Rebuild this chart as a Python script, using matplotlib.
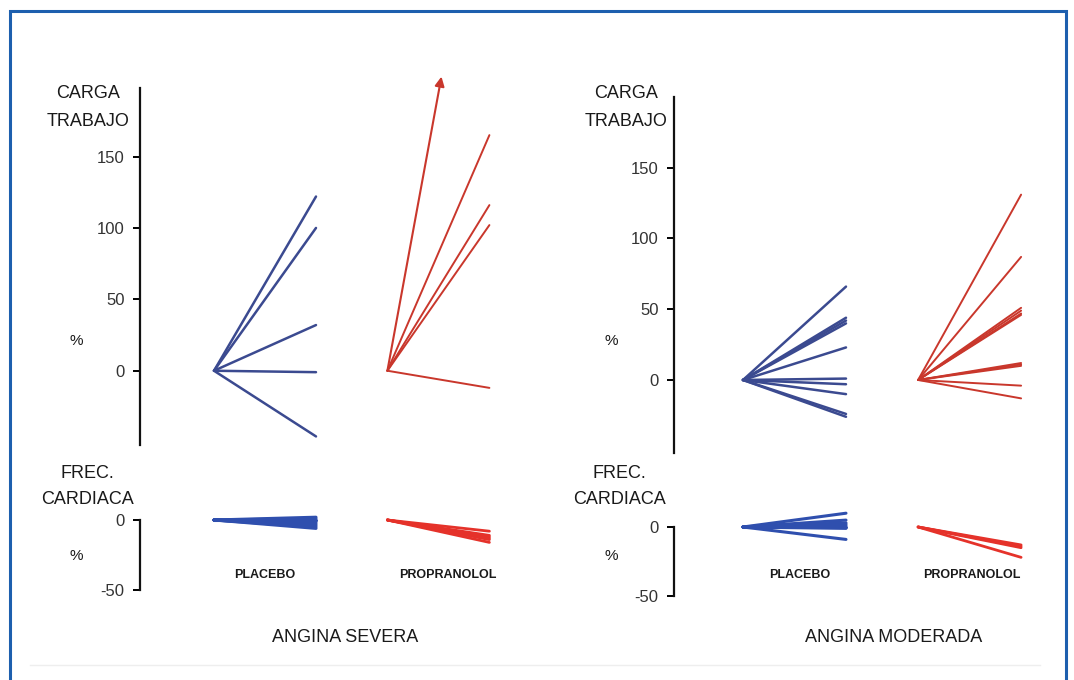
"""
Carga de trabajo y frecuencia cardiaca: placebo vs propranolol,
angina severa y angina moderada (cambios en % respecto al basal).
"""
import matplotlib
matplotlib.use("Agg")
import matplotlib.pyplot as plt
from matplotlib.patches import Rectangle

plt.rcParams["font.family"] = ["Liberation Sans", "DejaVu Sans"]

# ── Datos (% de cambio al final de cada tramo) ────────────────────────────────
sev_plac_carga = [122, 100, 32, -1, -46]
sev_prop_carga = [165, 116, 102, -12]
sev_prop_flecha = 206            # valor fuera de escala (flecha)
sev_plac_fc = [2, 1, 0, -1, -2, -3, -4, -5, -6]
sev_prop_fc = [-8, -11, -12, -13, -14, -16]

mod_plac_carga = [66, 44, 42, 40, 23, 1, -3, -10, -24, -26]
mod_prop_carga = [131, 87, 51, 49, 47, 46, 12, 11, 10, -4, -13]
mod_plac_fc = [10, 5, 3, 2, 1, 0, -1, -9]
mod_prop_fc = [-13, -14, -15, -22]

carga_ticks = [0, 50, 100, 150]
fc_ticks = [0, -50]
grupos = ["PLACEBO", "PROPRANOLOL"]
titulos = ["ANGINA SEVERA", "ANGINA MODERADA"]

# ── Estilo ────────────────────────────────────────────────────────────────────
AZUL = "#3b4a90"
AZUL_FC = "#2f4fae"
ROJO = "#c9372c"
ROJO_FC = "#e5322a"
W, H = 1074, 680
X_PLAC, X_PROP, DX = 0.0, 1.7, 1.0

fig = plt.figure(figsize=(W / 100, H / 100), dpi=100)


def add_axes_px(x0, y0, x1, y1):
    return fig.add_axes([x0 / W, 1 - y1 / H, (x1 - x0) / W, (y1 - y0) / H])


def style_axis(ax, ticks):
    for s in ("top", "right", "bottom"):
        ax.spines[s].set_visible(False)
    ax.spines["left"].set_linewidth(1.6)
    ax.spines["left"].set_color("#111111")
    ax.set_xticks([])
    ax.set_yticks(ticks)
    ax.set_yticklabels([str(t) for t in ticks])
    ax.tick_params(axis="y", direction="out", length=5, width=1.4,
                   labelsize=12, labelcolor="#333333", pad=6)
    ax.patch.set_visible(False)


def fan(ax, x0, values, color, lw):
    for v in values:
        ax.plot([x0, x0 + DX], [0, v], color=color, lw=lw,
                solid_capstyle="round", clip_on=False)


def text_px(x, y, s, size=13, **kw):
    fig.text(x / W, 1 - y / H, s, fontsize=size, ha="center", va="center",
             color="#1a1a1a", **kw)


panels = [
    dict(carga_box=(140, 88, 520, 445), carga_ylim=(-52, 198),
         fc_box=(140, 520, 520, 590), x_plac_px=214, scale=102,
         plac_c=sev_plac_carga, prop_c=sev_prop_carga,
         plac_f=sev_plac_fc, prop_f=sev_prop_fc, label_x=88, pct_x=76,
         frec_x=87, title_x=345, group_x=(265, 448)),
    dict(carga_box=(674, 97, 1050, 453), carga_ylim=(-51.6, 200),
         fc_box=(674, 527, 1050, 596), x_plac_px=743, scale=103,
         plac_c=mod_plac_carga, prop_c=mod_prop_carga,
         plac_f=mod_plac_fc, prop_f=mod_prop_fc, label_x=626, pct_x=611,
         frec_x=619, title_x=894, group_x=(800, 972)),
]

for i, p in enumerate(panels):
    x0, y0, x1, y1 = p["carga_box"]
    xmin = -(p["x_plac_px"] - x0) / p["scale"]
    xmax = xmin + (x1 - x0) / p["scale"]

    # ── Carga de trabajo ──────────────────────────────────────────────────
    ax = add_axes_px(*p["carga_box"])
    ax.set_xlim(xmin, xmax)
    ax.set_ylim(*p["carga_ylim"])
    style_axis(ax, carga_ticks)
    fan(ax, X_PLAC, p["plac_c"], AZUL, 1.8)
    fan(ax, X_PROP, p["prop_c"], ROJO, 1.4)
    if i == 0:
        ax.annotate("", xy=(X_PROP + 0.53, sev_prop_flecha), xytext=(X_PROP, 0),
                    annotation_clip=False,
                    arrowprops=dict(arrowstyle="-|>", color=ROJO, lw=1.5,
                                    mutation_scale=14, shrinkA=0, shrinkB=0))

    # ── Frecuencia cardiaca ───────────────────────────────────────────────
    axf = add_axes_px(*p["fc_box"])
    axf.set_xlim(xmin, xmax)
    axf.set_ylim(-50, 0)
    style_axis(axf, fc_ticks)
    fan(axf, X_PLAC, p["plac_f"], AZUL_FC, 2.2)
    fan(axf, X_PROP, p["prop_f"], ROJO_FC, 2.0)

    text_px(p["label_x"], 94, "CARGA")
    text_px(p["label_x"], 121, "TRABAJO")
    text_px(p["pct_x"], 341, "%", size=11)
    text_px(p["frec_x"], 474, "FREC.")
    text_px(p["frec_x"], 499, "CARDIACA")
    text_px(p["pct_x"], 556, "%", size=11)
    for gx, g in zip(p["group_x"], grupos):
        text_px(gx, 575, g, size=9, fontweight="bold")
    text_px(p["title_x"], 637, titulos[i], size=13)

# marco azul y línea gris inferior
fig.patches.append(Rectangle((10 / W, -0.05), 1056 / W, 1 - 11 / H + 0.05,
                             transform=fig.transFigure, fill=False,
                             edgecolor="#1d5fae", lw=2.2))
fig.add_artist(plt.Line2D([30 / W, 1040 / W], [1 - 665 / H, 1 - 665 / H],
                          transform=fig.transFigure, color="#eeeeee", lw=1))

fig.savefig("out.png", dpi=100)
